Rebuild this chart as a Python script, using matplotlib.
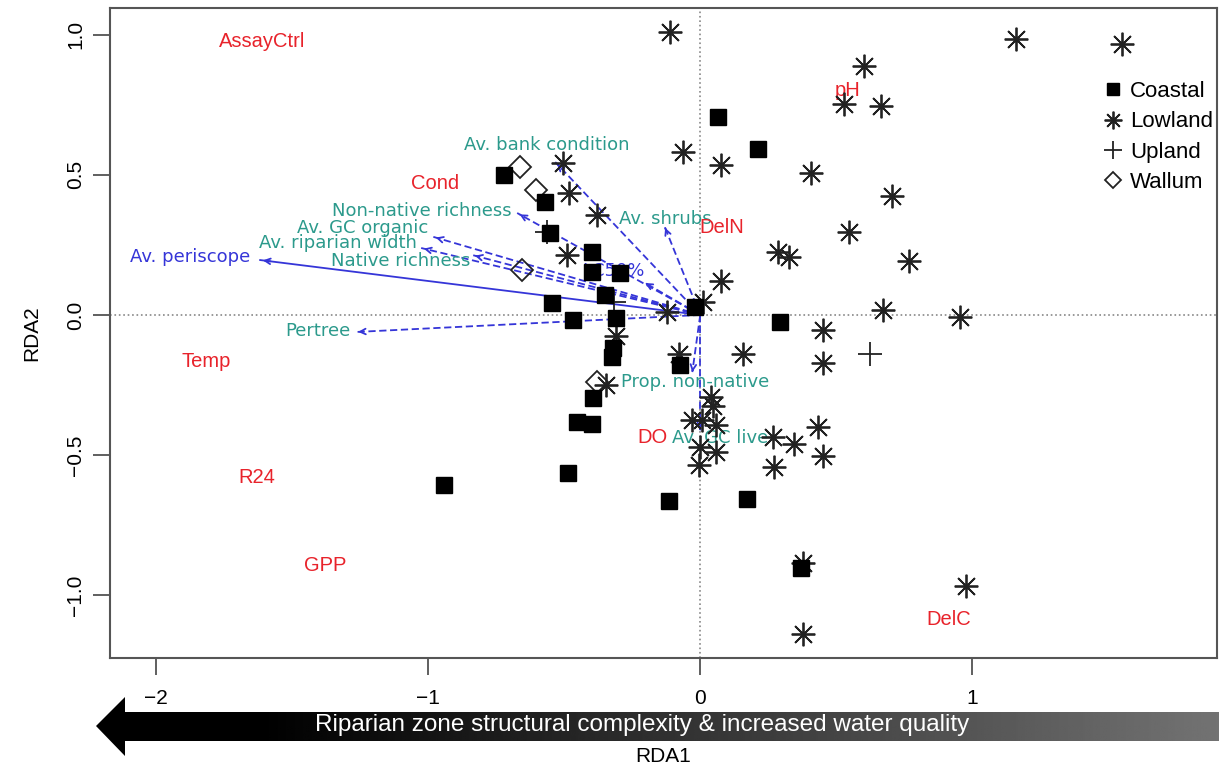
import numpy as np
import matplotlib
matplotlib.use("Agg")
import matplotlib.pyplot as plt
from matplotlib.patches import Polygon

# site scores (RDA1, RDA2)
coastal_x = [0.066, 0.213, -0.721, -0.570, -0.551, -0.397, -0.397, -0.294, -0.349, -0.544,
             -0.467, -0.309, -0.018, -0.320, -0.324, -0.074, -0.393, -0.452, -0.397, -0.485,
             -0.941, -0.114, 0.173, 0.371, 0.294]
coastal_y = [0.707, 0.593, 0.500, 0.404, 0.293, 0.225, 0.154, 0.150, 0.071, 0.043,
             -0.018, -0.011, 0.029, -0.118, -0.150, -0.179, -0.296, -0.382, -0.389, -0.564,
             -0.607, -0.664, -0.657, -0.904, -0.025]

lowland_x = [-0.110, 1.162, 1.551, 0.603, 0.529, 0.665, -0.063, 0.077, 0.408, 0.706,
             0.548, 0.287, 0.327, 0.768, 0.077, 0.011, 0.673, 0.956, 0.452, 0.158,
             0.452, 0.434, 0.268, 0.346, 0.452, 0.272, 0.379, 0.978, 0.379, -0.504,
             -0.482, -0.379, -0.489, -0.121, -0.309, -0.077, -0.346, 0.040, 0.048, -0.029,
             0.007, 0.059, 0.000, 0.059, -0.004]
lowland_y = [1.011, 0.986, 0.968, 0.889, 0.754, 0.746, 0.582, 0.536, 0.507, 0.425,
             0.296, 0.225, 0.207, 0.193, 0.121, 0.046, 0.018, -0.007, -0.054, -0.139,
             -0.171, -0.400, -0.436, -0.461, -0.504, -0.543, -0.886, -0.968, -1.139, 0.543,
             0.436, 0.357, 0.214, 0.011, -0.075, -0.139, -0.250, -0.293, -0.325, -0.375,
             -0.375, -0.393, -0.471, -0.489, -0.536]

upland_x = [0.625, -0.563, -0.316]
upland_y = [-0.139, 0.296, 0.046]

wallum_x = [-0.662, -0.603, -0.654, -0.379]
wallum_y = [0.529, 0.446, 0.161, -0.239]

# fitted environmental vectors
env_names = ["Av. periscope", "Pertree", "Non-native richness", "Av. GC organic",
             "Av. riparian width", "Native richness", "Av. bank condition", "Av. shrubs",
             "LC50%", "Prop. non-native", "Av. GC live"]
env_x = [-1.618, -1.268, -0.673, -0.982, -1.026, -0.838, -0.533, -0.129, -0.202, -0.029, 0.000]
env_y = [0.196, -0.061, 0.364, 0.279, 0.239, 0.214, 0.546, 0.311, 0.114, -0.204, -0.410]
env_lab_x = [-1.875, -1.404, -1.022, -1.243, -1.331, -1.103, -0.566, -0.129, -0.320, -0.018, 0.074]
env_lab_y = [0.207, -0.057, 0.371, 0.309, 0.257, 0.194, 0.607, 0.343, 0.157, -0.239, -0.439]
env_significant = ["Av. periscope", "LC50%"]

# factor centroids
fac_names = ["AssayCtrl", "Cond", "Temp", "R24", "GPP", "pH", "DelN", "DO", "DelC"]
fac_x = [-1.610, -0.974, -1.816, -1.632, -1.379, 0.540, 0.081, -0.176, 0.912]
fac_y = [0.975, 0.471, -0.168, -0.579, -0.893, 0.800, 0.314, -0.439, -1.089]

blue = "#3535d8"
teal = "#2c9a8c"
red = "#e8232b"
pt_col = "#222222"

W, H = 1219, 769
fig = plt.figure(figsize=(W / 100, H / 100), dpi=100)
plt.rcParams["font.family"] = ["Liberation Sans", "DejaVu Sans"]

ax = fig.add_axes([110 / W, (H - 658) / H, (1217 - 110) / W, (658 - 8) / H])
ax.set_zorder(2)
ax.set_xlim(-2.17, 1.90)
ax.set_ylim(-1.225, 1.096)

ax.axhline(0, color="#888888", ls=":", lw=1.2, zorder=0)
ax.axvline(0, color="#888888", ls=":", lw=1.2, zorder=0)

# arrows
for name, x, y in zip(env_names, env_x, env_y):
    if name == "Av. periscope":
        ax.plot([0, x], [0, y], color=blue, ls="-", lw=1.3, zorder=1)
    else:
        ax.plot([0, x], [0, y], color=blue, ls="--", dashes=(4, 2), lw=1.3, zorder=1)
    ax.annotate("", xy=(x, y), xytext=(x * 0.97, y * 0.97),
                arrowprops=dict(arrowstyle="->", color=blue, lw=1.3, mutation_scale=10), zorder=1)

for name, x, y in zip(env_names, env_lab_x, env_lab_y):
    c = blue if name in env_significant else teal
    ax.text(x, y, name, color=c, fontsize=13, ha="center", va="center",
            family="DejaVu Sans", zorder=2)

for name, x, y in zip(fac_names, fac_x, fac_y):
    ax.text(x, y, name, color=red, fontsize=14.5, ha="center", va="center", zorder=2)

# sites
star = (8, 2, 0)
ax.plot(coastal_x, coastal_y, ls="none", marker="s", ms=11, color="black", zorder=4, label="Coastal")
ax.plot(lowland_x, lowland_y, ls="none", marker=star, ms=17, mec=pt_col, mew=1.3, zorder=3, label="Lowland")
ax.plot(upland_x, upland_y, ls="none", marker="+", ms=17, mec=pt_col, mew=1.3, zorder=3, label="Upland")
ax.plot(wallum_x, wallum_y, ls="none", marker="D", ms=11, mfc="none", mec=pt_col, mew=1.3, zorder=3, label="Wallum")

handles, labels = ax.get_legend_handles_labels()
ax.legend(handles, labels, loc="upper left", bbox_to_anchor=((1092 - 110) / 1107, (658 - 70) / 650),
          frameon=False, fontsize=16, handlelength=0.9, handletextpad=0.3,
          labelspacing=0.42, borderpad=0, markerscale=0.75)

ax.set_xticks([-2, -1, 0, 1])
ax.set_yticks([1.0, 0.5, 0.0, -0.5, -1.0])
ax.set_yticklabels(["1.0", "0.5", "0.0", "\u22120.5", "\u22121.0"], rotation=90, va="center")
ax.tick_params(axis="both", labelsize=15, length=12, width=1.2, color="#444444", pad=10)
ax.tick_params(axis="y", pad=6)
for s in ax.spines.values():
    s.set_color("#555555")
    s.set_linewidth(1.5)
ax.set_ylabel("RDA2", fontsize=15, labelpad=18)

# bottom banner arrow (pixel space overlay)
ov = fig.add_axes([0, 0, 1, 1])
ov.set_zorder(1)
ov.set_xlim(0, W)
ov.set_ylim(H, 0)
ov.axis("off")
cols = np.linspace(96, W, 600)
grad = np.interp(cols, [96, 260, W], [0.0, 0.0, 0.45])[None, :]
img = ov.imshow(grad, cmap="gray", vmin=0, vmax=1, extent=[96, W, 756, 697], aspect="auto")
shape = Polygon([[96, 726], [125, 697], [125, 712], [W, 712], [W, 741], [125, 741], [125, 756]],
                closed=True, transform=ov.transData, facecolor="none", edgecolor="none")
ov.add_patch(shape)
img.set_clip_path(shape)
ov.text(642, 725, "Riparian zone structural complexity & increased water quality",
        color="white", fontsize=17.5, ha="center", va="center",
        family=["Liberation Sans Narrow", "Liberation Sans", "DejaVu Sans"])
ov.text(663, 757, "RDA1", fontsize=15, ha="center", va="center")

fig.savefig("out.png", dpi=100)
